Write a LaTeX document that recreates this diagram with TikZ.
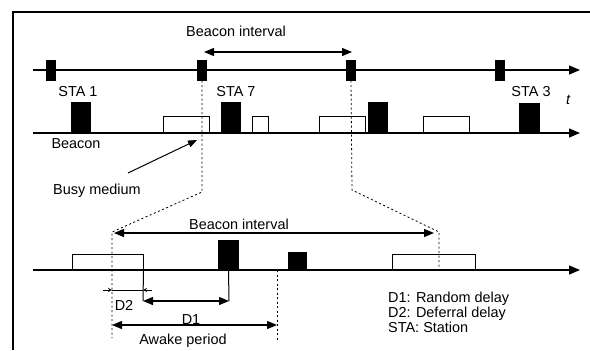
\documentclass[tikz,border=0pt]{standalone}
\usepackage{fontspec}
\setmainfont{Liberation Sans}
\usetikzlibrary{arrows.meta}

\begin{document}
\begin{tikzpicture}[x=1bp, y=-1bp,
  lbl/.style={font=\fontsize{14.5}{15}\selectfont, inner sep=0pt},
  beaconblk/.style={fill=black, minimum width=10bp, minimum height=21bp, inner sep=0pt},
  stablk/.style={fill=black, anchor=south, minimum width=20bp, minimum height=31bp, inner sep=0pt},
  busybox/.style={draw, fill=white, line width=1bp, anchor=south, minimum width=46bp,
                  minimum height=16bp, inner sep=0pt},
  timeline/.style={line width=1.2bp, -{Triangle[length=11bp, width=9bp]}},
  span/.style={line width=1.2bp, {Triangle[length=10bp, width=8bp]}-{Triangle[length=10bp, width=8bp]}},
  guide/.style={line width=0.8bp, dash pattern=on 2bp off 2.5bp}
]
\useasboundingbox (0,0) rectangle (590,350);
% frame
\draw[line width=1.5bp] (13,350) -- (13,12) -- (590,12);

% time axes
\coordinate (ax1s) at (33,70);  \coordinate (ax1e) at (580,70);
\coordinate (ax2s) at (33,133); \coordinate (ax2e) at (580,133);
\coordinate (ax3s) at (33,270); \coordinate (ax3e) at (580,270);
\draw[timeline] (ax1s) -- (ax1e);
\draw[timeline] (ax2s) -- (ax2e);
\draw[timeline] (ax3s) -- (ax3e);

% beacons
\node[beaconblk] (bc1) at (51,70) {};
\node[beaconblk] (bc2) at (202,70) {};
\node[beaconblk] (bc3) at (351,70) {};
\node[beaconblk] (bc4) at (500,70) {};
\coordinate (bi1l) at (202,52);
\coordinate (bi1r) at (352,52);
\draw[span, shorten <=2bp] (bi1l) -- (bi1r);
\node[lbl] (bitop) at (236,31) {Beacon interval};

% medium
\node[stablk] (sta1) at (81,133) {};
\node[busybox] (bz1) at (186,133) {};
\node[stablk] (sta7) at (231,133) {};
\node[busybox, minimum width=16bp] (bz2) at (260,133) {};
\node[busybox] (bz3) at (342,133) {};
\node[stablk] (sta7b) at (378,133) {};
\node[busybox] (bz4) at (446,133) {};
\node[stablk, minimum width=21bp, minimum height=30bp] (sta3) at (529.5,133) {};
\node[lbl] (lsta1) at (78,92) {STA 1};
\node[lbl] (lsta7) at (236,92) {STA 7};
\node[lbl] (lsta3) at (531,92) {STA 3};
\node[lbl, font=\fontsize{14.5}{15}\selectfont\itshape] (tlbl) at (568,100) {t};
\node[lbl] (lbeacon) at (76,144) {Beacon};
\node[lbl] (lbusy) at (97,191) {Busy medium};
\coordinate (busyfrom) at (128,173);
\coordinate (busyto) at (197,140);
\draw[line width=1bp, -{Triangle[length=9bp, width=7bp]}] (busyfrom) -- (busyto);

% zoomed station
\node[busybox, minimum width=71bp, minimum height=15bp] (w1) at (107.5,270) {};
\node[stablk, minimum width=21bp, minimum height=30bp] (blk1) at (228.5,270) {};
\node[stablk, minimum width=19bp, minimum height=18bp] (blk2) at (297.5,270) {};
\node[busybox, minimum width=83bp, minimum height=15bp] (w2) at (433.5,270) {};

% zoom guides
\coordinate (gl1) at (202,192); \coordinate (gl2) at (112,232); \coordinate (gl3) at (112,338);
\draw[guide] (bc2.south) -- (gl1) -- (gl2) -- (gl3);
\coordinate (gr1) at (352,190); \coordinate (gr2) at (439,232); \coordinate (gr3) at (439,270);
\draw[guide] (bc3.south) -- (gr1) -- (gr2) -- (gr3);

\coordinate (bi2l) at (114,233);
\coordinate (bi2r) at (434,233);
\draw[span] (bi2l) -- (bi2r);
\node[lbl] (bibot) at (239,224) {Beacon interval};

% delays
\coordinate (d1l) at (143,301);
\coordinate (d1r) at (229,301);
\draw[line width=1bp] (w1.south east) -- (d1l);
\draw[line width=1bp] (blk1.south) -- (d1r);
\draw[span] (d1l) -- (d1r);
\coordinate (d2o1) at (103,290); \coordinate (d2l) at (112,290);
\coordinate (d2o2) at (152,290); \coordinate (d2r) at (143,290);
\draw[line width=0.8bp, -{Stealth[length=4bp, width=4bp]}] (d2o1) -- (d2l);
\draw[line width=0.8bp] (d2l) -- (d2r);
\draw[line width=0.8bp, -{Stealth[length=4bp, width=4bp]}] (d2o2) -- (d2r);
\node[lbl] (ld2) at (124,305) {D2};
\node[lbl] (ld1) at (191,320) {D1};

\coordinate (awl) at (112,325);
\coordinate (awr) at (277,325);
\coordinate (aw1) at (277,270);
\coordinate (aw2) at (277,340);
\draw[guide] (aw1) -- (aw2);
\draw[span] (awl) -- (awr);
\node[lbl] (lawake) at (183,341) {Awake period};

% legend
\node[lbl, align=left, anchor=north west] (legend) at (388,292)
  {D1: Random delay\\D2: Deferral delay\\STA: Station};
\end{tikzpicture}
\end{document}
